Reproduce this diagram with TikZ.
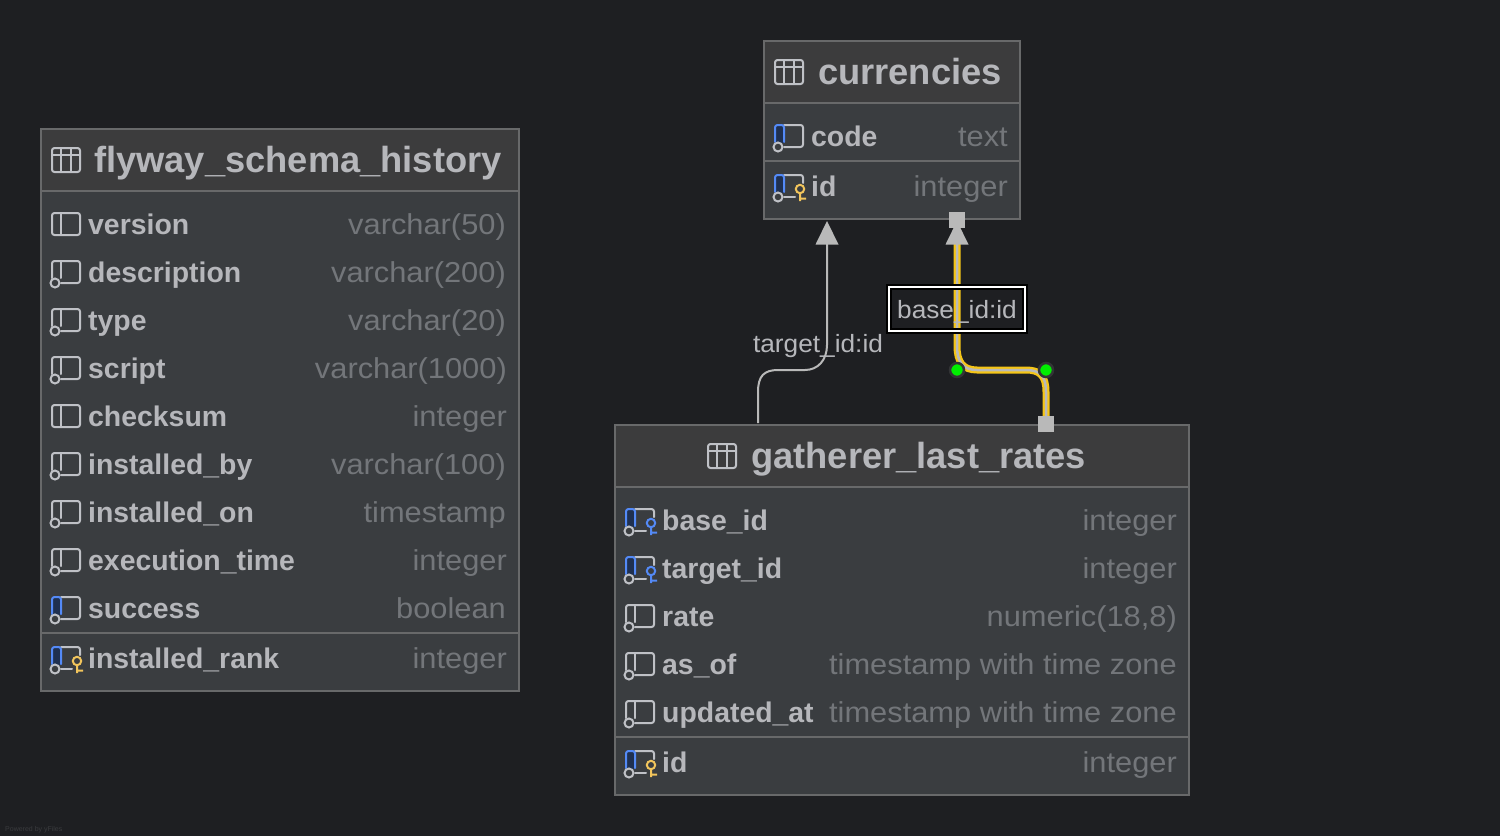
\documentclass[tikz,border=0pt]{standalone}
\usepackage{fontspec}
\setmainfont{Liberation Sans}
\newfontfamily\typefont[FakeStretch=1.07]{Liberation Sans}
\newfontfamily\lblfont[FakeStretch=1.05]{Liberation Sans}
\definecolor{bgc}{HTML}{1E1F22}
\definecolor{headc}{HTML}{3C3C3D}
\definecolor{bodyc}{HTML}{3A3D40}
\definecolor{edgec}{HTML}{68696A}
\definecolor{namec}{HTML}{B6B7BB}
\definecolor{typec}{HTML}{73767A}
\definecolor{iconc}{HTML}{BFC1C6}
\definecolor{bluec}{HTML}{548AF7}
\definecolor{navyc}{HTML}{1F3050}
\definecolor{goldc}{HTML}{F2C55C}
\definecolor{linec}{HTML}{B9B9B9}
\definecolor{yelc}{HTML}{F5C518}
\definecolor{haloc}{HTML}{333436}
\definecolor{greenc}{HTML}{00EE00}
\definecolor{faintc}{HTML}{3A3B3E}
\tikzset{
  x=1pt,y=-1pt,
  tablebox/.style={draw=edgec,line width=1.2pt,fill=bodyc,outer sep=0,inner sep=0,anchor=north west},
  headbox/.style={fill=headc},
  sepline/.style={draw=edgec,line width=2pt},
  titletxt/.style={anchor=base west,inner sep=0,text=namec,font=\fontsize{36.3}{36}\selectfont\bfseries},
  nametxt/.style={anchor=base west,inner sep=0,text=namec,font=\fontsize{28.4}{28}\selectfont\bfseries},
  typetxt/.style={anchor=base east,inner sep=0,text=typec,font=\typefont\fontsize{28.8}{29}\selectfont},
  linklbl/.style={inner sep=0,text=namec,font=\lblfont\fontsize{25}{25}\selectfont},
  ico/.style={draw=iconc,line width=2pt,line cap=round},
  conn/.style={draw=linec,line width=2pt},
  tipbox/.style={fill=linec,draw=none,minimum size=16pt,inner sep=0},
  tiptri/.style={fill=linec,draw=none},
  dot/.style={circle,fill=greenc,draw=haloc,line width=2.5pt,minimum size=14pt,inner sep=0},
}
\newcommand{\tbicon}[2]{\begin{scope}[shift={(#1,#2)}]
 \draw[ico,rounded corners=2.5pt] (0,-12) rectangle (28,12);
 \draw[ico] (0,-5) -- (28,-5) (9,-12) -- (9,12) (19,-12) -- (19,12);
\end{scope}}
\newcommand{\colplain}[2]{\begin{scope}[shift={(#1,#2)}]
 \draw[ico,rounded corners=2.5pt] (0,-11) rectangle (28,11);
 \draw[ico] (9,-11) -- (9,11);
\end{scope}}
\newcommand{\colnull}[2]{\begin{scope}[shift={(#1,#2)}]
 \draw[ico,rounded corners=2.5pt] (9,11) -- (28,11) -- (28,-11) -- (0,-11) -- (0,6);
 \draw[ico] (9,-11) -- (9,6);
 \draw[ico,fill=bodyc] (3,11) circle (4.5pt);
\end{scope}}
\newcommand{\colblue}[2]{\begin{scope}[shift={(#1,#2)}]
 \fill[navyc] (0.5,-10.5) rectangle (9,7);
 \draw[ico,rounded corners=2.5pt] (9,11) -- (28,11) -- (28,-11) -- (9,-11);
 \draw[ico,draw=bluec,rounded corners=2.5pt] (0,6) -- (0,-11) -- (9,-11) -- (9,6);
 \draw[ico,fill=bodyc] (3,11) circle (4.5pt);
\end{scope}}
\newcommand{\colkey}[3]{\begin{scope}[shift={(#1,#2)}]
 \fill[navyc] (0.5,-10.5) rectangle (9,7);
 \draw[ico,rounded corners=2.5pt] (9,11) -- (20,11);
 \draw[ico,rounded corners=2.5pt] (9,-11) -- (28,-11) -- (28,-3);
 \draw[ico,draw=bluec,rounded corners=2.5pt] (0,6) -- (0,-11) -- (9,-11) -- (9,6);
 \draw[ico,fill=bodyc] (3,11) circle (4.5pt);
 \draw[ico,draw=#3,line cap=butt] (25,3) circle (4.2pt) (25,7) -- (25,15) (25,12.5) -- (31,12.5);
\end{scope}}
\begin{document}
\begin{tikzpicture}
\useasboundingbox (0,0) rectangle (1500,836);
\fill[bgc] (0,0) rectangle (1500,836);

\coordinate (tA) at (827,244);
\coordinate (tA2) at (827,345);
\coordinate (tA3) at (805,370);
\coordinate (tA4) at (778,370);
\coordinate (tA5) at (758,392);
\coordinate (tA6) at (758,423);
\coordinate (tB) at (957,240);
\coordinate (tB2) at (957,346);
\coordinate (tB3) at (977,370);
\coordinate (tB4) at (1026,370);
\coordinate (tB5) at (1046,392);
\coordinate (tB6) at (1046,424);

\node[tablebox,minimum width=478pt,minimum height=562pt] (hist) at (41,129) {};
\fill[headbox] (41.6,129.6) rectangle (518.4,190);
\draw[sepline] (42,191) -- (518,191) (42,633) -- (518,633);
\node[tablebox,minimum width=256pt,minimum height=178pt] (curr) at (764,41) {};
\fill[headbox] (764.6,41.6) rectangle (1019.4,102);
\draw[sepline] (765,103) -- (1019,103) (765,161) -- (1019,161);
\node[tablebox,minimum width=574pt,minimum height=370pt] (gath) at (615,425) {};
\fill[headbox] (615.6,425.6) rectangle (1188.4,486);
\draw[sepline] (616,487) -- (1188,487) (616,737) -- (1188,737);

\tbicon{52}{160}
\node[titletxt] (h0) at (94,172) {flyway\_schema\_history};
\colplain{52}{224}
\node[nametxt] (h1n) at (88,234) {version};
\node[typetxt] (h1t) at (506,234) {varchar(50)};
\colnull{52}{272}
\node[nametxt] (h2n) at (88,282) {description};
\node[typetxt] (h2t) at (506,282) {varchar(200)};
\colnull{52}{320}
\node[nametxt] (h3n) at (88,330) {type};
\node[typetxt] (h3t) at (506,330) {varchar(20)};
\colnull{52}{368}
\node[nametxt] (h4n) at (88,378) {script};
\node[typetxt] (h4t) at (507,378) {varchar(1000)};
\colplain{52}{416}
\node[nametxt] (h5n) at (88,426) {checksum};
\node[typetxt] (h5t) at (507,426) {integer};
\colnull{52}{464}
\node[nametxt] (h6n) at (88,474) {installed\_by};
\node[typetxt] (h6t) at (506,474) {varchar(100)};
\colnull{52}{512}
\node[nametxt] (h7n) at (88,522) {installed\_on};
\node[typetxt] (h7t) at (506,522) {timestamp};
\colnull{52}{560}
\node[nametxt] (h8n) at (88,570) {execution\_time};
\node[typetxt] (h8t) at (507,570) {integer};
\colblue{52}{608}
\node[nametxt] (h9n) at (88,618) {success};
\node[typetxt] (h9t) at (506,618) {boolean};
\colkey{52}{658}{goldc}
\node[nametxt] (h10n) at (88,668) {installed\_rank};
\node[typetxt] (h10t) at (507,668) {integer};

\tbicon{775}{72}
\node[titletxt] (c0) at (818,84) {currencies};
\colblue{775}{136}
\node[nametxt] (c1n) at (811,146) {code};
\node[typetxt] (c1t) at (1008,146) {text};
\colkey{775}{186}{goldc}
\node[nametxt] (c2n) at (811,196) {id};
\node[typetxt] (c2t) at (1008,196) {integer};

\tbicon{708}{456}
\node[titletxt] (g0) at (751,468) {gatherer\_last\_rates};
\colkey{626}{520}{bluec}
\node[nametxt] (g1n) at (662,530) {base\_id};
\node[typetxt] (g1t) at (1177,530) {integer};
\colkey{626}{568}{bluec}
\node[nametxt] (g2n) at (662,578) {target\_id};
\node[typetxt] (g2t) at (1177,578) {integer};
\colnull{626}{616}
\node[nametxt] (g3n) at (662,626) {rate};
\node[typetxt] (g3t) at (1177,626) {numeric(18,8)};
\colnull{626}{664}
\node[nametxt] (g4n) at (662,674) {as\_of};
\node[typetxt] (g4t) at (1177,674) {timestamp with time zone};
\colnull{626}{712}
\node[nametxt] (g5n) at (662,722) {updated\_at};
\node[typetxt] (g5t) at (1177,722) {timestamp with time zone};
\colkey{626}{762}{goldc}
\node[nametxt] (g6n) at (662,772) {id};
\node[typetxt] (g6t) at (1177,772) {integer};

\draw[conn] (tA6) -- (tA5) .. controls (758,376) and (764,370) .. (tA4) -- (tA3)
  .. controls (818,370) and (827,360) .. (tA2) -- (tA);
\fill[tiptri] (827,221) -- (838.5,244.5) -- (815.5,244.5) -- cycle;
\node[linklbl] (lt) at (818,346) {target\_id:id};

\path[draw=yelc,line width=7pt] (tB6) -- (tB5) .. controls (1046,376) and (1040,370) .. (tB4) -- (tB3)
  .. controls (963,370) and (957,362) .. (tB2) -- (tB);
\path[draw=linec,line width=2.5pt] (tB6) -- (tB5) .. controls (1046,376) and (1040,370) .. (tB4) -- (tB3)
  .. controls (963,370) and (957,362) .. (tB2) -- (tB);
\fill[tiptri] (957,221) -- (968.5,244.5) -- (945.5,244.5) -- cycle;
\node[tipbox] (sqA) at (957,220) {};
\node[tipbox] (sqB) at (1046,424) {};
\node[dot] (d1) at (957,370) {};
\node[dot] (d2) at (1046,370) {};
\draw[black,line width=2pt] (887,285) rectangle (1027,333);
\draw[white,line width=2pt] (889,287) rectangle (1025,331);
\draw[black,line width=2pt] (891,289) rectangle (1023,329);
\node[linklbl] (lb) at (957,312) {base\_id:id};

\node[anchor=base west,inner sep=0,text=faintc,font=\fontsize{7}{7}\selectfont] (pw) at (5,831) {Powered by yFiles};
\end{tikzpicture}
\end{document}
